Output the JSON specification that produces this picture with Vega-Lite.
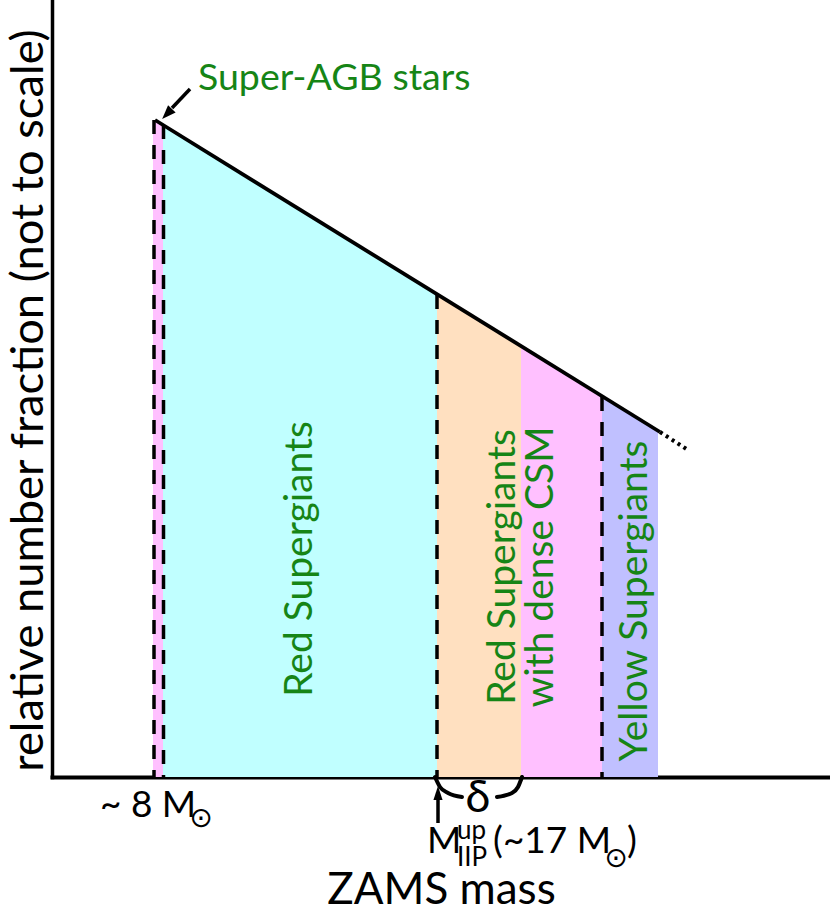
{
  "$schema": "https://vega.github.io/schema/vega-lite/v6.json",
  "width": 778,
  "height": 777,
  "autosize": {"type": "none"},
  "padding": {"left": 52, "top": 0, "right": 0, "bottom": 143},
  "background": "white",
  "config": {"view": {"stroke": null}, "font": "Lato"},
  "datasets": {
    "regions": [
      {"region": "sagb", "x": 101, "y": 657},
      {"region": "sagb", "x": 111, "y": 652},
      {"region": "rsg", "x": 111, "y": 652},
      {"region": "rsg", "x": 385, "y": 482},
      {"region": "rsgcsm", "x": 385, "y": 482},
      {"region": "rsgcsm", "x": 469, "y": 430},
      {"region": "csm", "x": 469, "y": 430},
      {"region": "csm", "x": 550, "y": 380},
      {"region": "ysg", "x": 550, "y": 380},
      {"region": "ysg", "x": 606, "y": 345}
    ],
    "topline": [{"x": 103, "y": 657}, {"x": 608, "y": 345}],
    "dotted": [{"x": 608, "y": 345}, {"x": 636, "y": 327}],
    "dividers": [{"x": 102, "y": 657}, {"x": 111.5, "y": 652}, {"x": 385, "y": 482}, {"x": 550, "y": 380}],
    "brace": [
      {"side": "L", "x": 383, "y": 0}, {"side": "L", "x": 388, "y": -10}, {"side": "L", "x": 396, "y": -16}, {"side": "L", "x": 410, "y": -20},
      {"side": "R", "x": 445, "y": -20}, {"side": "R", "x": 460, "y": -16}, {"side": "R", "x": 466, "y": -10}, {"side": "R", "x": 470, "y": 0}
    ],
    "shafts": [{"x": 138, "y": 688, "x2": 120, "y2": 669}, {"x": 386, "y": -46, "x2": 386, "y2": -20}],
    "head1": [{"x": 115, "y": 663}],
    "head2": [{"x": 386, "y": -16}],
    "greenH": [{"text": "Super-AGB stars", "x": 146, "y": 687}],
    "greenV": [
      {"text": "Red Supergiants", "x": 260, "y": 218},
      {"text": "Red Supergiants", "x": 463, "y": 210},
      {"text": "with dense CSM", "x": 501, "y": 210},
      {"text": "Yellow Supergiants", "x": 595, "y": 176}
    ],
    "bigLabels": [
      {"text": "~ 8 M", "x": 48, "y": -40},
      {"text": "M", "x": 375, "y": -76},
      {"text": "(~17 M", "x": 441, "y": -76},
      {"text": ")", "x": 575, "y": -76}
    ],
    "smallLabels": [
      {"text": "up", "x": 405, "y": -62},
      {"text": "IIP", "x": 405, "y": -89}
    ],
    "suns": [{"text": "⊙", "x": 149, "y": -42}, {"text": "⊙", "x": 564, "y": -82}],
    "delta": [{"text": "δ", "x": 426, "y": -35}]
  },
  "encoding": {
    "x": {
      "field": "x", "type": "quantitative",
      "scale": {"domain": [0, 778], "nice": false, "zero": false},
      "axis": {
        "title": "ZAMS mass", "titleFontSize": 44, "titleFont": "Lato", "titleFontWeight": "normal",
        "titleColor": "black", "titleBaseline": "alphabetic", "titleY": 126,
        "domain": true, "domainColor": "black", "domainWidth": 4, "domainCap": "square",
        "ticks": false, "labels": false, "grid": false
      }
    },
    "y": {
      "field": "y", "type": "quantitative",
      "scale": {"domain": [0, 777], "nice": false, "zero": false},
      "axis": {
        "title": "relative number fraction (not to scale)", "titleFontSize": 45.3, "titleFont": "Lato",
        "titleFontWeight": "normal", "titleColor": "black", "titleAngle": 270, "titleX": -10, "titleY": 400,
        "titleBaseline": "alphabetic", "titleAlign": "center",
        "domain": true, "domainColor": "black", "domainWidth": 3.5, "domainCap": "square",
        "ticks": false, "labels": false, "grid": false
      }
    }
  },
  "layer": [
    {
      "data": {"name": "regions"},
      "mark": {"type": "area", "opacity": 1},
      "encoding": {
        "y2": {"datum": 0},
        "color": {
          "field": "region", "type": "nominal", "legend": null,
          "scale": {"domain": ["sagb", "rsg", "rsgcsm", "csm", "ysg"], "range": ["#ffc0ff", "#c0ffff", "#ffe0c0", "#ffc0ff", "#c0c0ff"]}
        }
      }
    },
    {
      "data": {"name": "dividers"},
      "mark": {"type": "rule", "color": "black", "strokeWidth": 3.5, "strokeDash": [14, 11]},
      "encoding": {"y2": {"datum": 0}}
    },
    {
      "data": {"name": "topline"},
      "mark": {"type": "line", "color": "black", "strokeWidth": 3.8, "strokeCap": "butt"},
      "encoding": {}
    },
    {
      "data": {"name": "dotted"},
      "mark": {"type": "line", "color": "black", "strokeWidth": 4, "strokeDash": [3, 4]},
      "encoding": {}
    },
    {
      "data": {"name": "brace"},
      "mark": {"type": "line", "color": "black", "strokeWidth": 4, "interpolate": "monotone", "strokeCap": "round"},
      "encoding": {"detail": {"field": "side"}}
    },
    {
      "data": {"name": "shafts"},
      "mark": {"type": "rule", "color": "black", "strokeWidth": 3.5},
      "encoding": {"x2": {"field": "x2"}, "y2": {"field": "y2"}}
    },
    {
      "data": {"name": "head1"},
      "mark": {"type": "point", "shape": "M0,-1L0.75,1L-0.75,1Z", "size": 196, "filled": true, "color": "black", "opacity": 1, "angle": 224}
    },
    {
      "data": {"name": "head2"},
      "mark": {"type": "point", "shape": "M0,-1L0.65,1L-0.65,1Z", "size": 196, "filled": true, "color": "black", "opacity": 1, "angle": 0}
    },
    {
      "data": {"name": "greenH"},
      "mark": {"type": "text", "font": "Lato", "fontSize": 37.5, "color": "#168516", "align": "left", "baseline": "alphabetic"},
      "encoding": {"text": {"field": "text"}}
    },
    {
      "data": {"name": "greenV"},
      "mark": {"type": "text", "font": "Lato", "fontSize": 39, "color": "#168516", "align": "center", "baseline": "alphabetic", "angle": 270},
      "encoding": {"text": {"field": "text"}}
    },
    {
      "data": {"name": "bigLabels"},
      "mark": {"type": "text", "font": "Lato", "fontSize": 37, "color": "black", "align": "left", "baseline": "alphabetic"},
      "encoding": {"text": {"field": "text"}}
    },
    {
      "data": {"name": "smallLabels"},
      "mark": {"type": "text", "font": "Lato", "fontSize": 26, "color": "black", "align": "left", "baseline": "alphabetic"},
      "encoding": {"text": {"field": "text"}}
    },
    {
      "data": {"name": "suns"},
      "mark": {"type": "text", "font": "DejaVu Sans", "fontSize": 28, "color": "black", "align": "center", "baseline": "middle"},
      "encoding": {"text": {"field": "text"}}
    },
    {
      "data": {"name": "delta"},
      "mark": {"type": "text", "font": "Lato, DejaVu Sans", "fontSize": 45, "color": "black", "align": "center", "baseline": "alphabetic"},
      "encoding": {"text": {"field": "text"}}
    }
  ]
}
